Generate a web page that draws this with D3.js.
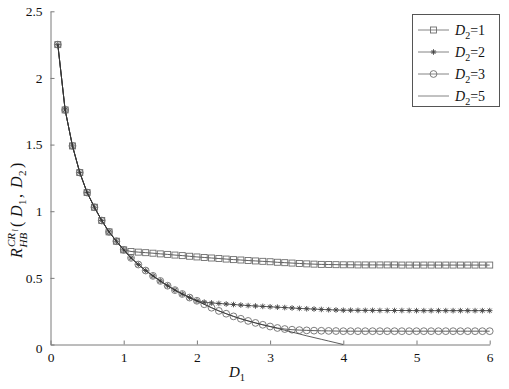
<!DOCTYPE html>
<html><head><meta charset="utf-8">
<script src="https://cdn.jsdelivr.net/npm/d3@7/dist/d3.min.js"></script>
<style>body{margin:0;background:#fff}svg{display:block}svg text{font-family:"Liberation Serif","Times New Roman",Times,serif !important}</style>
</head><body><svg id="c" width="509" height="389"></svg>
<script>
const xVals = [0.1,0.2,0.3,0.4,0.5,0.6,0.7,0.8,0.9,1.0,1.1,1.2,1.3,1.4,1.5,1.6,1.7,1.8,1.9,2.0,2.1,2.2,2.3,2.4,2.5,2.6,2.7,2.8,2.9,3.0,3.1,3.2,3.3,3.4,3.5,3.6,3.7,3.8,3.9,4.0,4.1,4.2,4.3,4.4,4.5,4.6,4.7,4.8,4.9,5.0,5.1,5.2,5.3,5.4,5.5,5.6,5.7,5.8,5.9,6.0];
const d2_1 = [2.25,1.76,1.49,1.29,1.14,1.03,0.93,0.845,0.775,0.71,0.698,0.693,0.689,0.685,0.680,0.676,0.671,0.667,0.662,0.657,0.653,0.649,0.645,0.641,0.637,0.634,0.630,0.627,0.624,0.621,0.617,0.614,0.611,0.608,0.605,0.603,0.601,0.600,0.599,0.598,0.598,0.597,0.597,0.597,0.597,0.597,0.597,0.596,0.596,0.596,0.596,0.596,0.596,0.596,0.596,0.596,0.596,0.596,0.596,0.596];
const d2_2 = [2.25,1.76,1.49,1.29,1.14,1.03,0.93,0.845,0.775,0.71,0.65,0.60,0.555,0.515,0.477,0.441,0.408,0.379,0.352,0.328,0.318,0.312,0.308,0.304,0.300,0.296,0.292,0.289,0.286,0.283,0.280,0.277,0.274,0.271,0.268,0.266,0.263,0.261,0.259,0.257,0.257,0.256,0.256,0.256,0.255,0.255,0.255,0.255,0.255,0.254,0.254,0.254,0.254,0.254,0.254,0.254,0.254,0.254,0.254,0.254];
const d2_3 = [2.25,1.76,1.49,1.29,1.14,1.03,0.93,0.845,0.775,0.71,0.65,0.60,0.555,0.515,0.477,0.441,0.408,0.379,0.352,0.328,0.302,0.276,0.252,0.231,0.211,0.193,0.177,0.162,0.148,0.135,0.124,0.116,0.111,0.108,0.106,0.104,0.103,0.102,0.101,0.100,0.100,0.100,0.100,0.100,0.100,0.100,0.100,0.100,0.100,0.100,0.100,0.100,0.100,0.100,0.100,0.100,0.100,0.100,0.100,0.100];
const d2_5 = [2.25,1.76,1.49,1.29,1.14,1.03,0.93,0.845,0.775,0.71,0.65,0.60,0.555,0.515,0.477,0.441,0.408,0.379,0.352,0.328,0.302,0.276,0.252,0.231,0.211,0.193,0.177,0.162,0.148,0.135,0.121,0.107,0.093,0.079,0.065,0.052,0.039,0.026,0.013,0.0];
const xTicks = [0,1,2,3,4,5,6];
const yTicks = [0,0.5,1,1.5,2,2.5];
const yTickLabels = ["0","0.5","1","1.5","2","2.5"];
const legendLabels = ["1","2","3","5"];

const FONT = '"Liberation Serif","Times New Roman",Times,serif';
const svg = d3.select("#c");
const x = d3.scaleLinear().domain([0,6]).range([50.5,489.7]);
const y = d3.scaleLinear().domain([0,2.5]).range([344.5,11.3]);
const axisCol = "#7a7a7a", lineCol = "#333", markCol = "#6e6e6e";

// axes
const xa = svg.append("g").attr("transform",`translate(0,${y(0)})`)
  .call(d3.axisBottom(x).tickValues(xTicks).tickSizeInner(-4).tickSizeOuter(0).tickPadding(8).tickFormat(d3.format("d")));
const ya = svg.append("g").attr("transform",`translate(${x(0)},0)`)
  .call(d3.axisLeft(y).tickValues(yTicks).tickSizeInner(-4).tickSizeOuter(0).tickPadding(8).tickFormat((d,i)=>yTickLabels[i]));
[xa,ya].forEach(g=>{
  g.attr("font-family",FONT);
  g.select(".domain").attr("stroke",axisCol);
  g.selectAll(".tick line").attr("stroke",axisCol);
  g.selectAll(".tick text").attr("font-size",13.5).attr("fill","#111");
});
ya.selectAll(".tick text").filter(d=>d===0).attr("dy","0.6em");

const line = d3.line().x(d=>x(d[0])).y(d=>y(d[1]));
function pts(arr){ return arr.map((v,i)=>[xVals[i],v]); }

function square(g,cx,cy){ g.append("rect").attr("x",cx-3).attr("y",cy-3).attr("width",6).attr("height",6).attr("fill","none").attr("stroke",markCol).attr("stroke-width",0.9); }
function circle(g,cx,cy){ g.append("circle").attr("cx",cx).attr("cy",cy).attr("r",3.4).attr("fill","none").attr("stroke",markCol).attr("stroke-width",0.9); }
function star(g,cx,cy){ const r=2.8, r2=2.0;
  g.append("path").attr("d",`M${cx-r},${cy}H${cx+r}M${cx},${cy-r}V${cy+r}M${cx-r2},${cy-r2}L${cx+r2},${cy+r2}M${cx-r2},${cy+r2}L${cx+r2},${cy-r2}`)
   .attr("stroke","#444").attr("stroke-width",0.9).attr("fill","none"); }

const series = [
  {data:d2_1, mark:square},
  {data:d2_2, mark:star},
  {data:d2_3, mark:circle},
  {data:d2_5, mark:null}
];
series.forEach(s=>{
  const g = svg.append("g");
  g.append("path").datum(pts(s.data)).attr("d",line).attr("fill","none").attr("stroke",lineCol).attr("stroke-width",0.8);
  if(s.mark) pts(s.data).forEach(p=>s.mark(g,x(p[0]),y(p[1])));
});

// axis labels
const xl = svg.append("text").attr("x",229).attr("y",377).attr("font-size",15).attr("fill","#111");
xl.append("tspan").attr("font-style","italic").text("D");
xl.append("tspan").attr("font-size",10.5).attr("dy",4).text("1");

// y label, built left-to-right in rotated frame
const yg = svg.append("g").attr("transform","translate(22,258) rotate(-90)").attr("fill","#111");
function txt(g,xp,yp,s,size,ital){ return g.append("text").attr("x",xp).attr("y",yp).attr("font-size",size).attr("font-style",ital?"italic":"normal").text(s); }
txt(yg,0,0,"R",16,true);
txt(yg,11,-7.5,"CR",11,true);
txt(yg,26.5,-4.5,"l",8,true);
txt(yg,10.5,5,"HB",11,true);
txt(yg,31,0,"(",16,false);
txt(yg,41,0,"D",16,true);
txt(yg,53,4,"1",11,false);
txt(yg,60,0,",",16,false);
txt(yg,70,0,"D",16,true);
txt(yg,82,4,"2",11,false);
txt(yg,90,0,")",16,false);

// legend
const lg = svg.append("g").attr("font-family",FONT);
lg.append("rect").attr("x",412.5).attr("y",14.5).attr("width",87).attr("height",92).attr("fill","#fff").attr("stroke","#555").attr("stroke-width",1);
const marks = [square, star, circle, null];
legendLabels.forEach((lab,i)=>{
  const cy = 30 + i*22;
  lg.append("line").attr("x1",418).attr("x2",449).attr("y1",cy).attr("y2",cy).attr("stroke","#777").attr("stroke-width",0.9);
  if(marks[i]) marks[i](lg,433.5,cy);
  const t = lg.append("text").attr("x",455).attr("y",cy+4.5).attr("font-size",14).attr("fill","#111");
  t.append("tspan").attr("font-style","italic").text("D");
  t.append("tspan").attr("font-size",10).attr("dy",4).text("2");
  t.append("tspan").attr("dy",-4).text("="+lab);
});
</script></body></html>
